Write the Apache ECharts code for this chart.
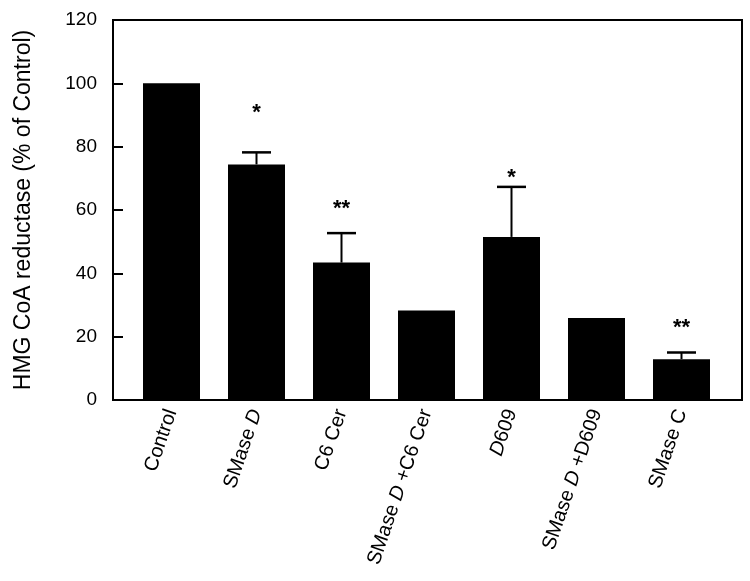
<!DOCTYPE html>
<html>
<head>
<meta charset="utf-8">
<script src="https://cdn.jsdelivr.net/npm/echarts@6/dist/echarts.min.js"></script>
<style>
html,body{margin:0;padding:0;background:#fff;}
#chart{width:750px;height:581px;}
</style>
</head>
<body>
<div id="chart"></div>
<script>
var categories = ['Control', 'SMase D', 'C6 Cer', 'SMase D +C6 Cer', 'D609', 'SMase D +D609', 'SMase C'];
var means = [100, 74.4, 43.4, 28.3, 51.5, 25.9, 12.9];
var errors = [0, 3.8, 9.3, 0, 15.8, 0, 2.1];
var stars = ['', '*', '**', '', '*', '', '**'];
var starY = [null, 92.6, 62.2, null, 72, null, 24.6];
var yTicks = [0, 20, 40, 60, 80, 100, 120];

var FONT = '"Liberation Sans", Arial, Helvetica, sans-serif';

var chart = echarts.init(document.getElementById('chart'), null, {renderer: 'canvas'});

function fmtLabel(v) {
  if (v.indexOf('SMase D') === 0) {
    return 'SMase {i|D}' + v.slice(7);
  }
  if (v === 'D609') return '{i|D}609';
  return v;
}

var errData = means.map(function (m, i) { return [i, m, errors[i], stars[i], starY[i]]; });

var option = {
  animation: false,
  backgroundColor: '#fff',
  grid: [
    {left: 113, right: 8, top: 20, bottom: 181, show: true, borderColor: '#000', borderWidth: 2, backgroundColor: 'transparent'},
    {left: 129, right: 26, top: 20, bottom: 181}
  ],
  xAxis: [
    {gridIndex: 0, type: 'category', data: categories, show: false},
    {
      gridIndex: 1, type: 'category', data: categories,
      axisLine: {show: false}, axisTick: {show: false},
      axisLabel: {
        rotate: 71, margin: 10, interval: 0,
        fontFamily: FONT, fontSize: 20, color: '#000',
        formatter: fmtLabel,
        rich: {i: {fontStyle: 'italic', fontFamily: FONT, fontSize: 20, color: '#000'}}
      }
    }
  ],
  yAxis: [
    {
      gridIndex: 0, type: 'value', min: 0, max: 120, interval: 20,
      axisLine: {show: true, lineStyle: {color: '#000', width: 2}},
      axisTick: {show: true, inside: true, length: 10, lineStyle: {color: '#000', width: 2}},
      splitLine: {show: false},
      axisLabel: {fontFamily: FONT, fontSize: 19, color: '#000', margin: 16,
        formatter: function (v) { return yTicks.indexOf(v) >= 0 ? String(v) : ''; }},
      name: 'HMG CoA reductase (% of Control)',
      nameLocation: 'middle', nameGap: 78,
      nameTextStyle: {fontFamily: FONT, fontSize: 23, color: '#000'}
    },
    {gridIndex: 1, type: 'value', min: 0, max: 120, interval: 20, show: false}
  ],
  series: [
    {
      type: 'bar', xAxisIndex: 1, yAxisIndex: 1,
      data: means, barWidth: 57,
      itemStyle: {color: '#000'}
    },
    {
      type: 'custom', xAxisIndex: 1, yAxisIndex: 1,
      data: errData,
      z: 5,
      renderItem: function (params, api) {
        var i = api.value(0);
        var m = api.value(1);
        var e = api.value(2);
        var children = [];
        if (e > 0) {
          var base = api.coord([i, m]);
          var top = api.coord([i, m + e]);
          children.push({type: 'line', shape: {x1: base[0], y1: base[1], x2: top[0], y2: top[1]}, style: {stroke: '#000', lineWidth: 2}});
          children.push({type: 'line', shape: {x1: top[0] - 14.5, y1: top[1], x2: top[0] + 14.5, y2: top[1]}, style: {stroke: '#000', lineWidth: 2.5}});
        }
        var s = stars[params.dataIndex];
        var sy = starY[params.dataIndex];
        if (s && sy != null) {
          var p = api.coord([i, sy]);
          children.push({type: 'text', style: {text: s, x: p[0], y: p[1] + 6, align: 'center', verticalAlign: 'middle',
            font: 'bold 22px ' + FONT, fill: '#000'}});
        }
        return {type: 'group', children: children};
      }
    }
  ]
};
chart.setOption(option);
</script>
</body>
</html>
